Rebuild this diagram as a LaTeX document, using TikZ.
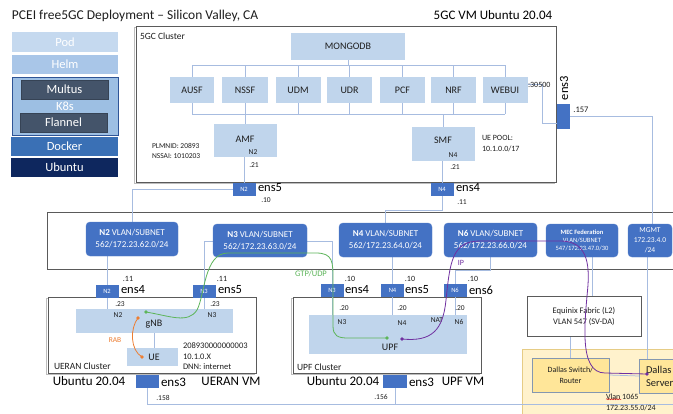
\documentclass[tikz,border=0pt]{standalone}
\usepackage{fontspec}
\setmainfont{Carlito}
\usetikzlibrary{decorations.pathmorphing}
\newcommand\fsz[1]{\fontsize{#1}{#1}\selectfont}
\definecolor{nfblue}{HTML}{C0D5EC}
\definecolor{podc}{HTML}{C5D9EF}
\definecolor{helmc}{HTML}{A9C6E8}
\definecolor{k8sc}{HTML}{9DBFE3}
\definecolor{k8sline}{HTML}{2F5597}
\definecolor{slate}{HTML}{44546A}
\definecolor{dockc}{HTML}{3A70B5}
\definecolor{ubuc}{HTML}{0E275E}
\definecolor{portc}{HTML}{4472C4}
\definecolor{wire}{HTML}{A7BCE0}
\definecolor{frame}{HTML}{5A5A5A}
\definecolor{gtpc}{HTML}{5DB55A}
\definecolor{rabc}{HTML}{ED7D31}
\definecolor{ipc}{HTML}{7030A0}
\definecolor{dallasbg}{HTML}{FFF2CC}
\definecolor{dallasedge}{HTML}{E6CC85}
\definecolor{dallasbox}{HTML}{FFE699}
\definecolor{dallasline}{HTML}{8497B0}
\definecolor{ink}{HTML}{1E1E1E}
\pgfdeclarelayer{back}
\pgfdeclarelayer{wires}
\pgfdeclarelayer{front}
\pgfsetlayers{back,wires,main,front}
\begin{document}
\begin{tikzpicture}[x=1pt,y=-1pt,
  every node/.style={inner sep=0pt, outer sep=0pt},
  sz/.style 2 args={minimum width=#1pt, minimum height=#2pt},
  leg/.style={text=white, font=\fsz{12.5}},
  nf/.style={fill=nfblue, text=ink, font=\fsz{10}},
  port/.style={fill=portc, text=white, font=\fsz{6.5}, minimum width=23pt, minimum height=13pt},
  vlan/.style={fill=portc, draw=portc!90!white, rounded corners=4pt, text=white, align=center, font=\fontsize{9}{12}\selectfont},
  cluster/.style={draw=frame, line width=0.9pt, fill=white},
  castshadow/.style={draw=frame!40, line width=0.9pt},
  wireline/.style={draw=wire, line width=0.75pt},
  ifname/.style={anchor=west, text=black, font=\fsz{12.5}},
  addr/.style={text=ink, font=\fsz{7.5}},
  note/.style={anchor=west, text=ink, font=\fsz{7.5}},
  vmname/.style={text=black, font=\fsz{13}},
  enddot/.style={circle, minimum size=3.8pt, fill=#1},
  dallasnode/.style={fill=dallasbox, draw=dallasline, line width=0.7pt, align=center, text=ink},
]
\useasboundingbox (0,0) rectangle (673,413);

% ---------- page and frames ----------
\begin{pgfonlayer}{back}
  \fill[white] (0,0) rectangle (673,413);
  \draw[castshadow] (134.7,27.3) rectangle (554.7,183.3);
  \node[cluster, sz={420}{156}] (core) at (346,104) {};
  \node[cluster, sz={633}{57}] (vbar) at (363.5,240.5) {};
  \draw[castshadow] (46.7,298.3) rectangle (254.7,374.3);
  \node[cluster, sz={208}{76}] (ueran) at (152,335) {};
  \draw[castshadow] (291.7,298.3) rectangle (479.7,374.3);
  \node[cluster, sz={188}{76}] (upfc) at (387,335) {};
  \node[fill=dallasbg, draw=dallasedge, line width=0.8pt, sz={160}{70}, anchor=north west] (dallas) at (522,349) {};
\end{pgfonlayer}

% ---------- titles ----------
\node[anchor=west, font=\fsz{13.5}, text=ink] (title) at (12,16) {PCEI free5GC Deployment – Silicon Valley, CA};
\node[vmname] (vmtitle) at (493,15) {5GC VM Ubuntu 20.04};

% ---------- stack legend ----------
\node[leg, fill=podc, sz={106}{20}] (pod) at (65,42) {Pod};
\node[leg, fill=helmc, sz={106}{19}] (helm) at (65,64.5) {Helm};
\node[fill=k8sc, draw=k8sline, line width=0.6pt, sz={106}{58}] (k8s) at (65,106) {};
\node[leg, fill=slate, draw=slate!80!black, sz={87}{19}] (multus) at (64.5,89.5) {Multus};
\node[leg] (k8slbl) at (65,106.5) {K8s};
\node[leg, fill=slate, draw=slate!80!black, sz={87}{19}] (flannel) at (63.5,122.5) {Flannel};
\node[leg, fill=dockc, sz={107}{19}] (docker) at (64.5,146.5) {Docker};
\node[leg, fill=ubuc, sz={107}{19}] (ubuntu) at (64.5,167.5) {Ubuntu};

% ---------- 5GC cluster ----------
\node[anchor=west, font=\fsz{9.5}, text=ink] (corelbl) at (140,36) {5GC Cluster};
\node[nf, sz={114}{27}] (mongo) at (348,46.5) {MONGODB};
\node[nf, sz={44}{26}] (ausf) at (192,90) {AUSF};
\node[nf, sz={46}{26}] (nssf) at (245,90) {NSSF};
\node[nf, sz={45}{26}] (udm) at (298,90) {UDM};
\node[nf, sz={45}{26}] (udr) at (349.5,90) {UDR};
\node[nf, sz={45}{26}] (pcf) at (402.5,90) {PCF};
\node[nf, sz={45}{26}] (nrf) at (453.5,90) {NRF};
\node[nf, sz={45}{26}] (webui) at (505,90) {WEBUI};
\node[nf, sz={63}{33}] (amf) at (245.5,140.5) {};
\node[text=ink, font=\fsz{10}] (amflbl) at (245,139) {AMF};
\node[addr] (amfn2) at (253,152) {N2};
\node[addr] (amfip) at (254,165) {.21};
\node[nf, sz={63}{34}] (smf) at (443.5,144) {};
\node[text=ink, font=\fsz{10}] (smflbl) at (443,140) {SMF};
\node[addr] (smfn4) at (453,155) {N4};
\node[addr] (smfip) at (455,167) {.21};
\node[note] (plmn) at (152,146) {PLMNID: 20893};
\node[note] (nssai) at (152,156) {NSSAI: 1010203};
\node[note, font=\fsz{8}] (uepool) at (482,138) {UE POOL:};
\node[note, font=\fsz{8}] (uenet) at (482,149) {10.1.0.0/17};
\node[note, font=\fsz{8}] (webport) at (528,85) {:30500};

\coordinate (busT) at (0,65);
\coordinate (busB) at (0,114);
\begin{pgfonlayer}{wires}
  \draw[wireline] (ausf.north |- busT) -- (webui.north |- busT);
  \draw[wireline] (ausf.south |- busB) -- (webui.south |- busB);
  \draw[wireline] (mongo.south) -- (mongo.south |- busT);
  \foreach \n in {ausf,nssf,udm,udr,pcf,nrf,webui}{
    \draw[wireline] (\n.north |- busT) -- (\n.south |- busB);
  }
  \draw[wireline] (amf.north -| nssf.south) -- (nssf.south);
  \draw[wireline] (smf.north) -- (smf.north |- busB);
\end{pgfonlayer}

% ---------- 5GC VM interfaces ----------
\node[port, minimum width=13pt, minimum height=25pt] (p3) at (563,116.5) {};
\node[text=black, font=\fsz{12.5}, rotate=90] (p3name) at (564,88) {ens3};
\node[addr, font=\fsz{8.5}] (p3ip) at (581,110) {.157};
\node[port] (pn2) at (244,189) {N2};
\node[ifname] (pn2name) at (258,188) {ens5};
\node[addr] (pn2ip) at (266,200) {.10};
\node[port] (pn4) at (442,189) {N4};
\node[ifname] (pn4name) at (456,188) {ens4};
\node[addr] (pn4ip) at (462,202) {.11};

% ---------- VLANs ----------
\node[vlan, sz={92}{34}] (vn2) at (132,239) {\textbf{N2} VLAN/SUBNET\\562/172.23.62.0/24};
\node[vlan, sz={94}{33}] (vn3) at (260,240.5) {\textbf{N3} VLAN/SUBNET\\562/172.23.63.0/24};
\node[vlan, sz={93}{34}] (vn4) at (385.5,240) {\textbf{N4} VLAN/SUBNET\\562/172.23.64.0/24};
\node[vlan, sz={93}{34}] (vn6) at (490.5,240) {\textbf{N6} VLAN/SUBNET\\562/172.23.66.0/24};
\node[vlan, sz={72}{33}, font=\fontsize{6.5}{8}\selectfont] (vmec) at (582,240.5) {\textbf{MEC Federation}\\VLAN/SUBNET\\547/172.23.47.0/30};
\node[vlan, sz={44}{33}, font=\fontsize{7.5}{10}\selectfont] (vmgmt) at (650,240.5) {MGMT\\172.23.4.0\\/24};

% ---------- UERAN VM ----------
\node[port] (un2) at (107,291) {N2};
\node[ifname] (un2name) at (121,290) {ens4};
\node[addr, font=\fsz{8}] (un2ip) at (128,279) {.11};
\node[port] (un3) at (204,291) {N3};
\node[ifname] (un3name) at (218,290) {ens5};
\node[addr, font=\fsz{8}] (un3ip) at (222,279) {.11};
\node[nf, sz={157}{24}] (gnb) at (154.5,321) {};
\node[text=ink, font=\fsz{10}] (gnblbl) at (154,324) {gNB};
\node[addr] (gnbn2) at (118,315) {N2};
\node[addr] (gnbn3) at (212,315) {N3};
\node[addr] (gnbip2) at (120,304) {.23};
\node[addr] (gnbip3) at (215,304) {.23};
\node[nf, sz={51}{18}] (ue) at (152.5,357) {};
\node[text=ink, font=\fsz{10}] (uelbl) at (154,357) {UE};
\node[note, font=\fsz{8.5}] (imsi) at (183,346) {208930000000003};
\node[note, font=\fsz{8.5}] (ueip) at (183,357) {10.1.0.X};
\node[note, font=\fsz{8.5}] (dnn) at (183,367) {DNN: internet};
\node[note, font=\fsz{9.5}] (ueranlbl) at (54,366) {UERAN Cluster};
\node[text=rabc, font=\fsz{7.5}] (rablbl) at (115,340) {RAB};
\node[vmname] (ueranos) at (89,381) {Ubuntu 20.04};
\node[port] (ue3) at (147.5,381.5) {};
\node[ifname, font=\fsz{13}] (ue3name) at (161,382) {ens3};
\node[vmname] (ueranvm) at (231,381) {UERAN VM};
\node[addr] (ue3ip) at (163,398) {.158};

% ---------- UPF VM ----------
\node[port] (fn3) at (332,290) {N3};
\node[ifname] (fn3name) at (345,290) {ens4};
\node[addr, font=\fsz{8}] (fn3ip) at (350,279) {.10};
\node[port] (fn4) at (392.5,290) {N4};
\node[ifname] (fn4name) at (405,290) {ens5};
\node[addr, font=\fsz{8}] (fn4ip) at (410,279) {.10};
\node[port] (fn6) at (455,290) {N6};
\node[ifname] (fn6name) at (469,290) {ens6};
\node[addr, font=\fsz{8}] (fn6ip) at (473,279) {.10};
\node[nf, sz={158}{39}] (upfa) at (388,334.5) {};
\node[text=ink, font=\fsz{10}] (upflbl) at (390,347) {UPF};
\node[addr] (upfip3) at (344,308) {.20};
\node[addr] (upfip4) at (402,308) {.20};
\node[addr] (upfip6) at (460,308) {.20};
\node[addr] (upfn3) at (342,322) {N3};
\node[addr] (upfn4) at (402,323) {N4};
\node[addr] (upfnat) at (437,320) {NAT};
\node[addr] (upfn6) at (459,322) {N6};
\node[note, font=\fsz{9.5}] (upfclbl) at (297,367) {UPF Cluster};
\node[vmname] (upfos) at (343,381) {Ubuntu 20.04};
\node[port, minimum width=24pt] (fe3) at (395,381.5) {};
\node[ifname, font=\fsz{13}] (fe3name) at (409,382) {ens3};
\node[vmname] (upfvm) at (463,381) {UPF VM};
\node[addr] (fe3ip) at (381,397) {.156};

% ---------- Equinix / Dallas ----------
\node[draw=frame, line width=0.7pt, fill=white, sz={114}{40}, align=center, text=ink, font=\fontsize{8.5}{11}\selectfont] (eqx) at (584,316) {Equinix Fabric (L2)\\VLAN 547 (SV-DA)};
\node[dallasnode, sz={77}{34}, font=\fontsize{8}{11}\selectfont] (sw) at (570.5,375) {Dallas Switch/\\Router};
\node[dallasnode, sz={60}{34}] (srv) at (669,376) {};
\node[anchor=west, align=left, text=ink, font=\fontsize{10.5}{13}\selectfont] (srvlbl) at (646,376) {Dallas\\Server};
\node[note, font=\fsz{8}] (vlanid) at (606,397) {Vlan 1065};
\node[note, font=\fsz{8}] (vlannet) at (606,408) {172.23.55.0/24};
\draw[red!80!black, line width=0.4pt, decorate, decoration={snake, amplitude=0.6pt, segment length=2.5pt}] (vlanid.south west) ++(0,-0.5) -- ++(15,0);

% ---------- connectors ----------
\coordinate (n4bend) at (0,210);
\coordinate (n3bend) at (0,241);
\coordinate (lanY) at (0,404);
\coordinate (laneEnd) at (673,404);
\begin{pgfonlayer}{wires}
  \draw[wireline] ([yshift=6pt]webui.east) -- ++(15,0) |- ([yshift=-6.5pt]p3.west);
  \draw[wireline] (p3.east) -| ([xshift=2pt]vmgmt.north);
  \draw[wireline] ([xshift=-3pt]vmgmt.south) -- ([xshift=-3pt]vmgmt.south |- srv.north);
  \draw[wireline] (pn2.north) -- (pn2.north |- amf.south);
  \draw[wireline] (pn4.north) -- (pn4.north |- smf.south);
  \draw[wireline] (pn2.west) -| (vn2.north);
  \draw[wireline] (pn4.south) -- (pn4.south |- n4bend) -| (vn4.north);
  \draw[wireline] (un2.north) -- (un2.north |- vn2.south);
  \draw[wireline] (un2.south) -- (un2.south |- gnb.north);
  \draw[wireline] (un3.north) -- (un3.north |- n3bend) -| (fn3.north);
  \draw[wireline] (un3.south) -- (un3.south |- gnb.north);
  \draw[wireline] (ue.north -| 154,0) -- (gnb.south -| 154,0);
  \draw[wireline] (fn4.north) -- (fn4.north |- vn4.south);
  \draw[wireline] (vn6.south) -- ++(0,13) -| (fn6.north);
  \draw[wireline] (fn3.south) -- (fn3.south |- upfa.north);
  \draw[wireline] (fn4.south) -- (fn4.south |- upfa.north);
  \draw[wireline] (fn6.south) -- (fn6.south |- upfa.north);
  \draw[wireline] ([xshift=10pt]vmec.south) -- ([xshift=10pt]vmec.south |- eqx.north);
  \draw[wireline] (sw.north) -- (sw.north |- eqx.south);
  \draw[wireline] (sw.east) -- (srv.west);
  \draw[wireline] (ue3.south) -- (ue3.south |- lanY) -- (laneEnd);
  \draw[wireline] (fe3.south) -- (fe3.south |- lanY);
\end{pgfonlayer}

% ---------- user-plane paths ----------
\coordinate (gtpA) at (146,312);
\coordinate (gtpB) at (387,338);
\coordinate (rabA) at (138,318);
\coordinate (rabB) at (142,357);
\coordinate (ipA) at (402,339);
\coordinate (ipB) at (647,374);
\begin{pgfonlayer}{front}
  \draw[gtpc, line width=0.8pt] (gtpA) .. controls (170,316) and (188,324) .. (197,310)
     .. controls (205,295) and (204,253) .. (228,253) -- (316,253)
     .. controls (333,253) and (333,262) .. (333,280) -- (333,326)
     .. controls (333,336) and (338,338) .. (348,338) -- (gtpB);
  \node[enddot=gtpc] (gtpdotA) at (gtpA) {};
  \node[enddot=gtpc] (gtpdotB) at (gtpB) {};
  \node[text=gtpc, font=\fsz{8.5}] (gtplbl) at (311,274) {GTP/UDP};
  \draw[rabc, line width=0.8pt] (rabA) .. controls (130,328) and (130,350) .. (rabB);
  \node[enddot=rabc] (rabdotA) at (rabA) {};
  \node[enddot=rabc] (rabdotB) at (rabB) {};
  \draw[ipc, line width=0.8pt] (ipA) .. controls (432,342) and (443,330) .. (446,300)
     .. controls (450,262) and (452,241) .. (480,241) -- (560,241)
     .. controls (582,241) and (590,255) .. (588,285)
     .. controls (585,320) and (578,373) .. (605,373) -- (ipB);
  \node[enddot=ipc] (ipdotA) at (ipA) {};
  \node[enddot=ipc] (ipdotB) at (ipB) {};
  \node[text=ipc, font=\fsz{8}] (iplbl) at (461,263) {IP};
\end{pgfonlayer}
\end{tikzpicture}
\end{document}
